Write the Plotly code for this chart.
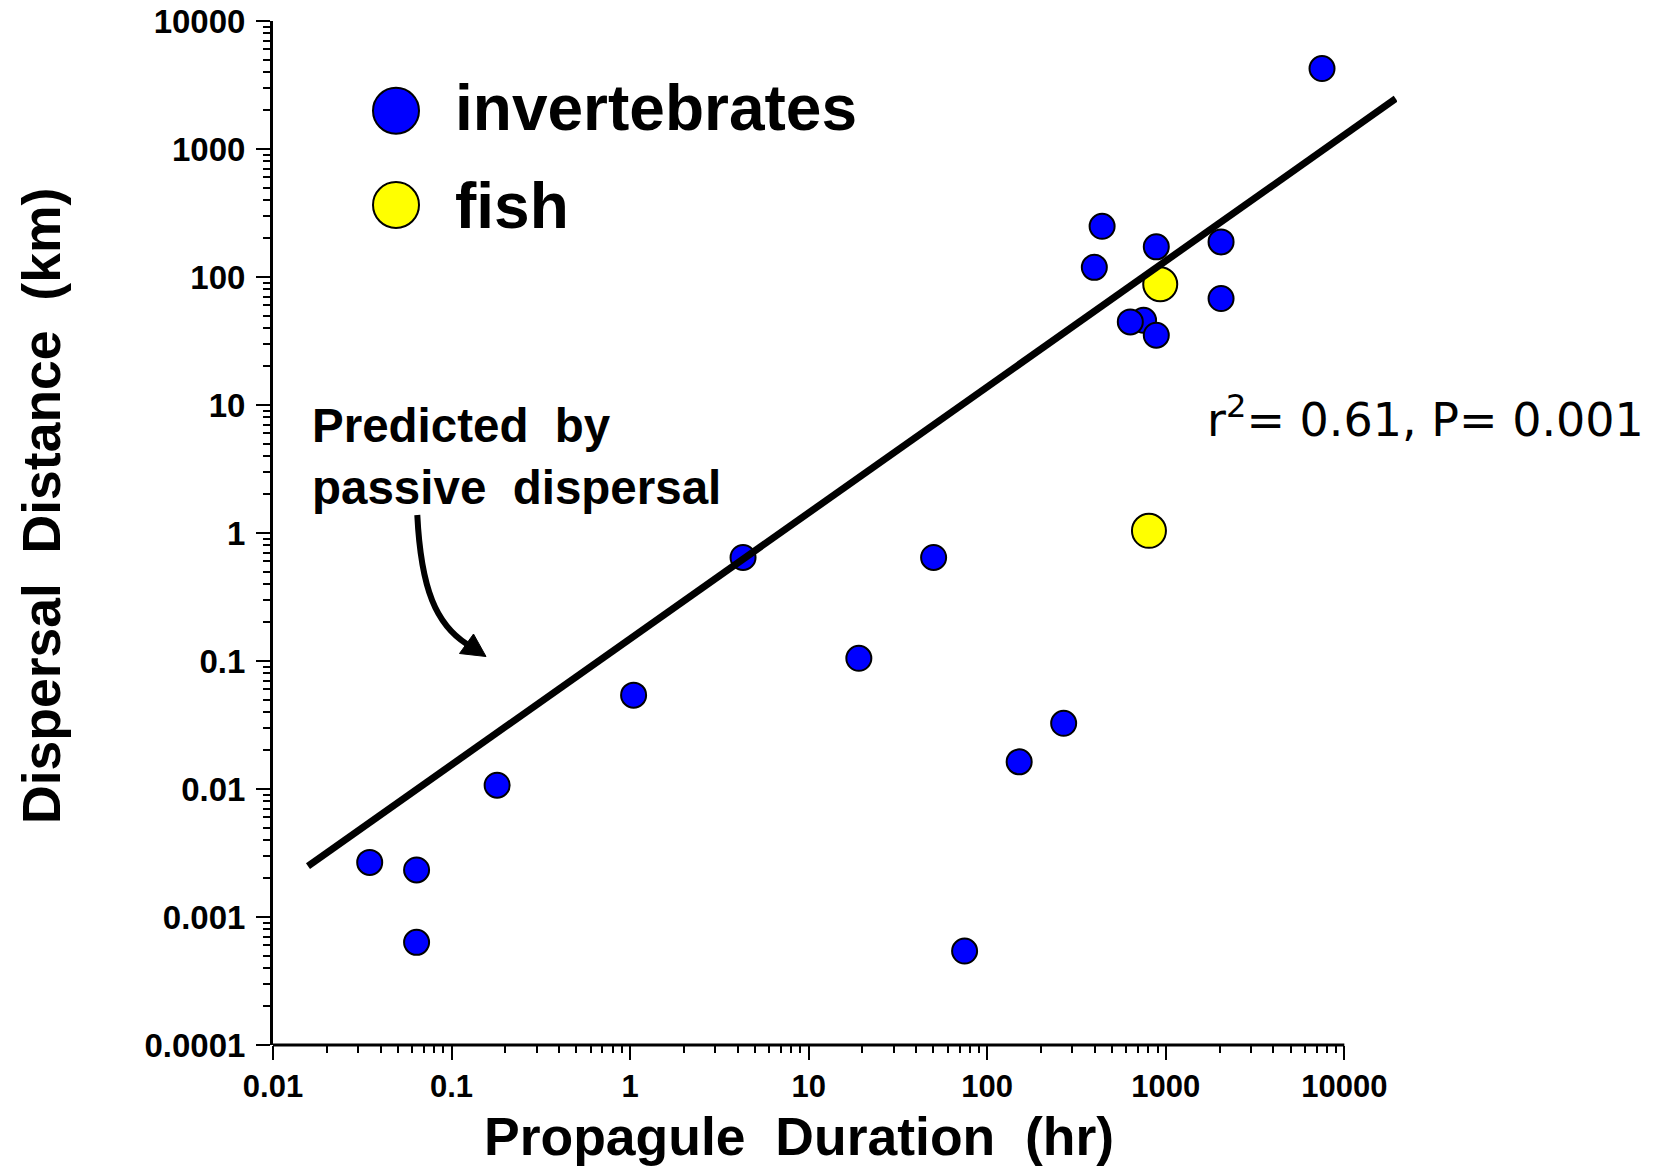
import plotly.graph_objects as go

# ---------------- data ----------------
inv_x = [0.0348, 0.0637, 0.0637, 0.180, 1.046, 4.29, 19.1, 50.1, 74.7, 151, 268,
         398, 440, 751, 633, 885, 885, 2040, 2040, 7500]
inv_y = [0.00267, 0.00233, 0.000634, 0.0107, 0.0541, 0.644, 0.105, 0.644, 0.000542, 0.0163, 0.0326,
         119, 249, 45.9, 44.6, 35.1, 172, 188, 67.9, 4250]
fish_x = [931, 805]
fish_y = [87.8, 1.04]

# line predicted by passive dispersal
pred_x = [0.0157, 19400]
pred_y = [0.0025, 2470]

x_tickvals = [0.01, 0.1, 1, 10, 100, 1000, 10000]
x_ticktext = ["0.01", "0.1", "1", "10", "100", "1000", "10000"]
y_tickvals = [0.0001, 0.001, 0.01, 0.1, 1, 10, 100, 1000, 10000]
y_ticktext = ["0.0001", "0.001", "0.01", "0.1", "1", "10", "100", "1000", "10000"]

# ---------------- layout geometry ----------------
W, H = 1664, 1169
ML, MR, MT, MB = 273, 267, 21, 124
XR = [-2, 4.295]
YR = [-4, 4]
PW = W - ML - MR
PH = H - MT - MB


def px(xp):
    return (xp - ML) / PW


def py(yp):
    return (H - MB - yp) / PH


BOLD = "Liberation Sans"

fig = go.Figure()
fig.add_trace(go.Scatter(
    x=inv_x, y=inv_y, mode="markers", name="invertebrates",
    marker=dict(size=25, color="#0000FF", line=dict(color="black", width=2)),
    showlegend=False))
fig.add_trace(go.Scatter(
    x=fish_x, y=fish_y, mode="markers", name="fish",
    marker=dict(size=34, color="#FFFF00", line=dict(color="black", width=2)),
    showlegend=False))
fig.add_trace(go.Scatter(
    x=pred_x, y=pred_y, mode="lines", name="Predicted by passive dispersal",
    line=dict(color="black", width=7), showlegend=False))

tick_common = dict(
    type="log", showgrid=False, zeroline=False, automargin=False,
    ticks="outside", ticklen=14, tickwidth=2, tickcolor="black",
    minor=dict(ticks="outside", ticklen=7, tickwidth=2, tickcolor="black",
               dtick="D1", showgrid=False),
)

fig.update_xaxes(range=XR, tickmode="array", tickvals=x_tickvals, ticktext=x_ticktext,
                 showline=False,
                 tickfont=dict(family=BOLD, size=31, color="black", weight="bold"),
                 **tick_common)
fig.update_yaxes(range=YR, tickmode="array", tickvals=y_tickvals, ticktext=y_ticktext,
                 showline=True, linewidth=3, linecolor="black", ticklabelstandoff=4,
                 tickfont=dict(family=BOLD, size=33, color="black", weight="bold"),
                 **tick_common)

shapes = []
# x-axis line (ends at 10000)
shapes.append(dict(type="line", xref="paper", yref="paper",
                   x0=0, x1=(4 - XR[0]) / (XR[1] - XR[0]), y0=0, y1=0,
                   line=dict(color="black", width=3)))
# legend circles
for yc, col in [(110.7, "#0000FF"), (205, "#FFFF00")]:
    shapes.append(dict(type="circle", xref="paper", yref="paper",
                       xsizemode="pixel", ysizemode="pixel",
                       xanchor=px(396), yanchor=py(yc),
                       x0=-23, x1=23, y0=-23, y1=23,
                       fillcolor=col, line=dict(color="black", width=2)))
# curved arrow
p0, p1, p2, p3 = (417.3, 515), (421, 590), (436.7, 624.7), (466.7, 644)
path = "M {},{} C {},{} {},{} {},{}".format(
    px(p0[0]), py(p0[1]), px(p1[0]), py(p1[1]),
    px(p2[0]), py(p2[1]), px(p3[0]), py(p3[1]))
shapes.append(dict(type="path", xref="paper", yref="paper", path=path,
                   line=dict(color="black", width=6)))
tip, c1, c2 = (486, 656.5), (459.5, 653.5), (473.5, 634)
head = "M {},{} L {},{} L {},{} Z".format(
    px(tip[0]), py(tip[1]), px(c1[0]), py(c1[1]), px(c2[0]), py(c2[1]))
shapes.append(dict(type="path", xref="paper", yref="paper", path=head,
                   fillcolor="black", line=dict(color="black", width=1)))

NB = "\u00a0"
annotations = [
    dict(text="Propagule" + NB * 2 + "Duration" + NB * 2 + "(hr)",
         x=px(798.6), y=py(1136), xref="paper", yref="paper",
         xanchor="center", yanchor="middle", showarrow=False,
         font=dict(family=BOLD, size=53.5, color="black", weight="bold")),
    dict(text="Dispersal" + NB * 2 + "Distance" + NB * 2 + "(km)",
         x=px(41), y=py(506), xref="paper", yref="paper", textangle=-90,
         xanchor="center", yanchor="middle", showarrow=False,
         font=dict(family=BOLD, size=53.5, color="black", weight="bold")),
    dict(text="invertebrates", x=px(453), y=py(108), xref="paper", yref="paper",
         xanchor="left", yanchor="middle", showarrow=False,
         font=dict(family=BOLD, size=64, color="black", weight="bold")),
    dict(text="fish", x=px(453), y=py(206), xref="paper", yref="paper",
         xanchor="left", yanchor="middle", showarrow=False,
         font=dict(family=BOLD, size=64, color="black", weight="bold")),
    dict(text="Predicted" + NB * 2 + "by<br>passive" + NB * 2 + "dispersal",
         x=px(310), y=py(456), xref="paper", yref="paper", align="left",
         xanchor="left", yanchor="middle", showarrow=False,
         font=dict(family=BOLD, size=47.5, color="black", weight="bold")),
    dict(text="r<sup>2</sup>= 0.61, P= 0.001",
         x=px(1205), y=py(417), xref="paper", yref="paper",
         xanchor="left", yanchor="middle", showarrow=False,
         font=dict(family="DejaVu Sans", size=46, color="black")),
]

fig.update_layout(
    width=W, height=H,
    margin=dict(l=ML, r=MR, t=MT, b=MB, pad=0),
    plot_bgcolor="white", paper_bgcolor="white",
    shapes=shapes, annotations=annotations,
    showlegend=False,
)

fig.write_html("out.html")
